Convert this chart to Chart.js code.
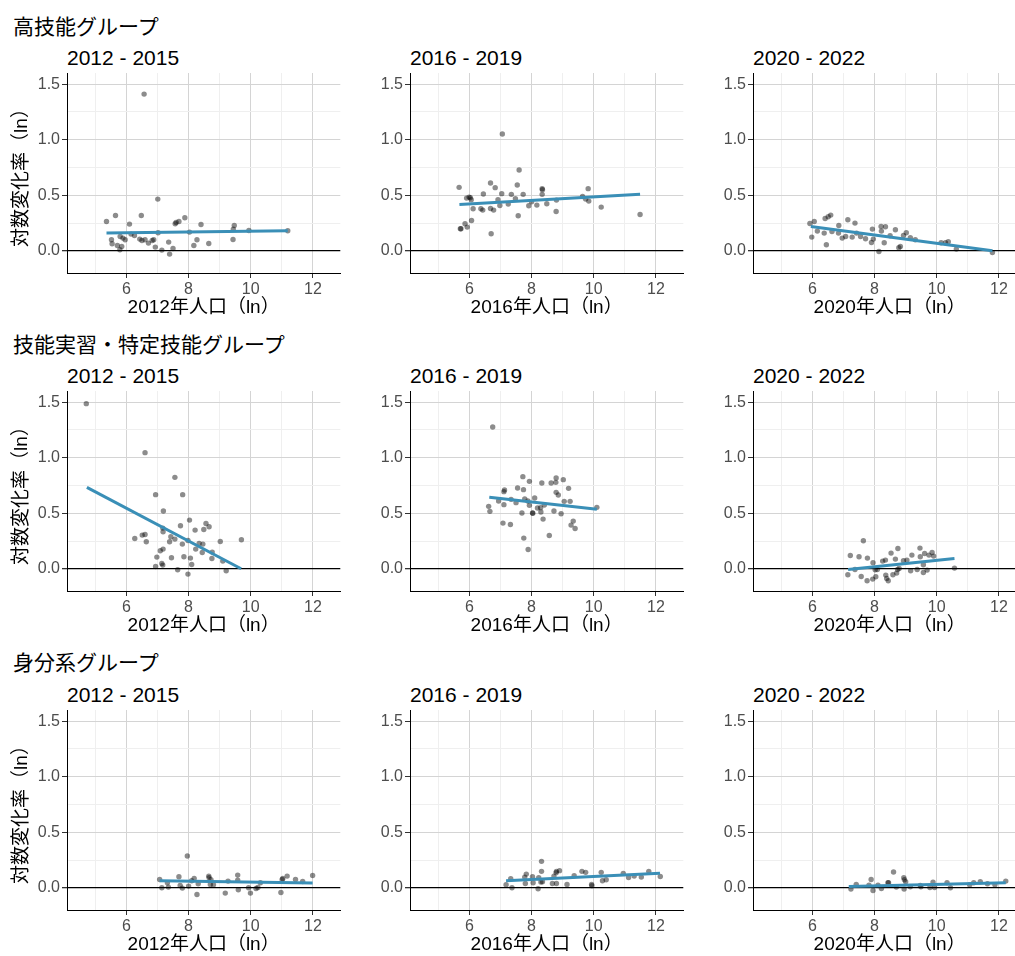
<!DOCTYPE html>
<html lang="ja">
<head>
  <meta charset="UTF-8">
  <title>人口規模と外国人人口の対数変化率</title>
  <script src="https://cdn.jsdelivr.net/npm/chart.js"></script>
  <style>
    body {
      margin: 0;
      width: 1015px;
      height: 956px;
      overflow: hidden;
      position: relative;
      background: #fff;
      font-family: 'Liberation Sans', 'Noto Sans CJK JP', sans-serif;
    }
    .group {
      position: absolute;
      left: 13px;
      font-size: 21px;
      line-height: 21px;
      color: #000;
      white-space: nowrap;
    }
    .period {
      position: absolute;
      font-size: 21px;
      line-height: 21px;
      color: #000;
      white-space: nowrap;
    }
    canvas { position: absolute; }
  </style>
</head>
<body>
  <script>
    // グループ・期間・軸ラベル
    const groups = ["高技能グループ", "技能実習・特定技能グループ", "身分系グループ"];
    const periods = ["2012 - 2015", "2016 - 2019", "2020 - 2022"];
    const xTitles = ["2012年人口（ln）", "2016年人口（ln）", "2020年人口（ln）"];
    const yTitle = "対数変化率（ln）";

    // 高技能グループ
    const hs12x = [6.57,5.36,5.65,6.48,7.01,6.10,5.52,5.54,5.71,5.79,5.85,5.80,5.89,5.96,6.15,6.26,6.43,6.50,6.60,6.71,6.83,6.88,6.93,7.02,7.14,7.36,7.39,7.50,7.57,7.60,7.69,7.88,8.03,8.17,8.27,8.40,8.65,9.43,9.44,9.47,9.94,11.19];
    const hs12y = [1.41,0.264,0.318,0.318,0.465,0.240,0.099,0.063,0.048,0.009,0.039,0.129,0.114,0.099,0.150,0.138,0.105,0.093,0.099,0.069,0.093,0.099,0.033,0.162,0.006,0.078,-0.030,0.021,0.243,0.255,0.264,0.297,0.168,0.048,0.099,0.237,0.066,0.102,0.195,0.228,0.183,0.180];
    const hs16x = [7.06,7.60,5.67,6.68,6.83,7.54,8.34,8.35,9.82,5.91,5.99,6.03,6.06,6.45,7.04,7.35,7.48,7.73,8.34,6.92,6.98,7.25,7.91,8.00,8.17,8.49,8.80,9.64,9.74,9.84,10.24,6.12,6.37,6.43,6.68,6.78,7.57,8.79,11.49,6.07,5.86,5.93,5.71,5.73,6.70];
    const hs16y = [1.051,0.727,0.571,0.610,0.568,0.592,0.559,0.550,0.559,0.474,0.483,0.477,0.459,0.511,0.514,0.508,0.468,0.508,0.508,0.459,0.408,0.420,0.405,0.441,0.411,0.423,0.456,0.489,0.465,0.447,0.393,0.378,0.378,0.366,0.381,0.366,0.315,0.354,0.327,0.273,0.243,0.213,0.198,0.198,0.153];
    const hs20x = [5.92,6.06,5.98,6.16,6.38,6.41,6.51,6.59,6.45,6.63,6.85,6.84,6.96,7.07,7.14,7.28,7.37,7.42,7.55,7.71,7.90,7.93,7.96,8.14,8.21,8.22,8.35,8.31,8.50,8.67,8.78,8.83,8.93,9.02,9.15,9.31,10.14,10.28,10.37,10.63,11.79];
    const hs20y = [0.246,0.264,0.123,0.177,0.159,0.291,0.306,0.321,0.054,0.174,0.228,0.159,0.114,0.129,0.279,0.123,0.249,0.159,0.129,0.108,0.075,0.195,0.105,-0.006,0.219,0.177,0.216,0.072,0.135,0.189,0.027,0.039,0.138,0.162,0.117,0.099,0.072,0.072,0.081,0.015,-0.015];

    // 技能実習・特定技能グループ
    const tr12x = [4.71,6.60,7.56,6.94,7.81,7.19,8.03,7.74,8.56,8.66,8.49,8.21,7.17,7.18,7.43,7.56,6.27,6.51,6.60,6.64,7.39,7.98,7.80,8.34,8.46,9.02,9.70,7.09,7.18,8.23,8.44,8.76,6.98,7.45,7.85,8.06,8.75,9.10,7.14,7.17,6.94,8.10,7.65,7.98,9.21];
    const tr12y = [1.486,1.045,0.823,0.667,0.667,0.520,0.438,0.387,0.408,0.378,0.354,0.348,0.366,0.333,0.288,0.267,0.273,0.303,0.309,0.243,0.243,0.255,0.222,0.228,0.222,0.246,0.261,0.162,0.177,0.177,0.147,0.150,0.105,0.099,0.108,0.096,0.093,0.069,0.048,0.033,0.021,0.039,-0.009,-0.048,-0.018];
    const tr16x = [6.75,7.72,7.93,8.33,8.63,8.79,8.78,9.02,9.19,7.55,7.74,7.13,7.11,8.79,8.86,6.62,6.66,6.94,7.11,7.34,7.50,7.78,7.88,7.93,8.10,8.19,8.29,8.41,8.30,8.03,8.04,7.69,8.72,8.95,9.05,9.24,10.10,7.08,7.32,8.37,9.34,9.27,9.40,8.57,7.75,7.89];
    const tr16y = [1.276,0.829,0.787,0.772,0.772,0.817,0.778,0.802,0.724,0.727,0.712,0.709,0.694,0.688,0.664,0.562,0.517,0.610,0.577,0.625,0.595,0.628,0.610,0.571,0.637,0.547,0.550,0.574,0.511,0.502,0.500,0.502,0.520,0.495,0.607,0.607,0.553,0.411,0.399,0.447,0.429,0.393,0.363,0.300,0.276,0.174];
    const tr20x = [7.64,7.22,7.50,7.77,8.53,8.75,9.46,9.20,9.61,9.75,9.85,9.90,9.47,8.67,8.93,9.04,7.95,8.26,8.35,9.57,7.37,7.14,7.57,7.76,7.94,8.04,8.02,8.09,8.36,8.39,8.44,8.59,8.71,8.74,8.79,9.16,9.37,9.57,9.69,10.57];
    const tr20y = [0.252,0.120,0.108,0.096,0.141,0.183,0.186,0.123,0.138,0.123,0.147,0.114,0.108,0.087,0.072,0.078,0.054,0.069,0.078,0.036,-0.006,-0.054,-0.069,-0.108,-0.093,-0.072,-0.009,-0.006,-0.057,-0.087,-0.108,-0.054,-0.039,-0.006,0.003,-0.018,-0.006,-0.033,-0.012,0.006];

    // 身分系グループ
    const st12x = [7.96,7.07,7.14,7.32,7.35,7.69,7.73,7.80,8.00,8.10,8.18,8.31,8.27,8.65,8.66,8.72,8.70,8.80,9.18,9.27,9.58,9.58,9.60,9.93,9.99,10.17,10.23,10.31,10.97,11.01,11.03,11.17,11.44,11.67,11.99];
    const st12y = [0.286,0.075,0.0,0.045,0.006,0.099,0.021,-0.003,0.015,0.063,0.084,0.036,-0.060,0.105,0.090,0.072,0.030,0.027,-0.048,0.060,0.114,0.069,-0.018,0.0,-0.048,-0.006,0.003,0.045,-0.042,0.075,0.084,0.105,0.075,0.057,0.111];
    const st16x = [8.32,8.32,7.83,7.78,8.03,8.23,8.80,8.90,8.79,9.62,9.74,9.37,10.24,10.95,11.77,12.14,11.30,11.53,11.12,10.28,10.40,8.72,7.33,7.18,7.37,7.80,8.05,8.30,8.35,8.67,8.80,9.14,8.21,9.93,9.94];
    const st16y = [0.238,0.148,0.123,0.096,0.099,0.090,0.148,0.154,0.136,0.148,0.139,0.108,0.139,0.130,0.148,0.102,0.105,0.096,0.093,0.063,0.072,0.105,0.081,0.027,0.0,0.039,0.045,0.051,0.054,0.039,0.039,0.030,-0.009,0.030,0.018];
    const st20x = [8.61,7.89,8.94,8.96,9.00,7.24,7.41,7.82,7.95,8.11,8.22,8.43,8.45,8.70,8.95,9.15,9.47,9.78,9.88,9.93,10.33,10.44,11.06,11.19,11.40,11.63,11.87,12.22,9.49];
    const st20y = [0.142,0.075,0.090,0.072,0.054,-0.012,0.030,0.024,-0.024,0.024,-0.006,0.045,0.045,0.006,-0.012,0.009,0.021,0.003,0.051,0.003,0.045,0.0,0.027,0.045,0.054,0.036,0.027,0.060,0.009];

    // 回帰直線の両端 (x, y)
    const fitX = [[5.36, 11.19], [5.68, 11.49], [5.95, 11.79],
                  [4.73, 9.69],  [6.64, 10.10], [7.15, 10.57],
                  [7.07, 11.99], [7.18, 12.13], [7.17, 12.22]];
    const fitY = [[0.159, 0.180], [0.417, 0.508], [0.219, 0.0],
                  [0.733, 0.0],   [0.643, 0.535], [-0.006, 0.093],
                  [0.063, 0.042], [0.063, 0.130], [0.012, 0.045]];

    const pointsX = [hs12x, hs16x, hs20x, tr12x, tr16x, tr20x, st12x, st16x, st20x];
    const pointsY = [hs12y, hs16y, hs20y, tr12y, tr16y, tr20y, st12y, st16y, st20y];

    // レイアウト
    const X_MIN = 4.09, X_MAX = 12.88;
    const Y_MIN = -0.2, Y_MAX = 1.6;
    const PLOT_LEFT = [67, 410, 753];
    const PLOT_TOP = [73, 391, 710];
    const PLOT_W = 274, PLOT_H = 200;
    const ROW_STEP = 318.3;
    const PAD_TOP = 5, X_AXIS_H = 46;
    const FONT = "'Liberation Sans', 'Noto Sans CJK JP', sans-serif";

    Chart.defaults.font.family = FONT;

    const isMajorX = v => Math.abs(v % 2) < 1e-6;
    const isMajorY = v => Math.abs(v * 2 - Math.round(v * 2)) < 1e-6;

    function addText(cls, text, left, top) {
      const d = document.createElement("div");
      d.className = cls;
      d.textContent = text;
      d.style.left = left + "px";
      d.style.top = top + "px";
      document.body.appendChild(d);
    }

    for (let r = 0; r < 3; r++) {
      addText("group", groups[r], 13, 15.5 + r * ROW_STEP);

      for (let c = 0; c < 3; c++) {
        const i = r * 3 + c;
        addText("period", periods[c], PLOT_LEFT[c], 47 + r * ROW_STEP);

        const yw = c === 0 ? 67 : 50;
        const cv = document.createElement("canvas");
        const w = yw + PLOT_W + 2;
        const h = PAD_TOP + PLOT_H + X_AXIS_H;
        cv.width = w;
        cv.height = h;
        cv.style.width = w + "px";
        cv.style.height = h + "px";
        cv.style.left = (PLOT_LEFT[c] - yw) + "px";
        cv.style.top = (PLOT_TOP[r] - PAD_TOP) + "px";
        document.body.appendChild(cv);

        const pts = pointsX[i].map((x, k) => ({ x: x, y: pointsY[i][k] }));
        const fit = fitX[i].map((x, k) => ({ x: x, y: fitY[i][k] }));

        new Chart(cv.getContext("2d"), {
          type: "scatter",
          data: {
            datasets: [
              {
                data: fit,
                showLine: true,
                borderColor: "#3a8fb7",
                borderWidth: 3,
                pointRadius: 0,
                order: 0,
              },
              {
                data: pts,
                backgroundColor: "rgba(0,0,0,0.45)",
                borderWidth: 0,
                pointRadius: 2.7,
                pointHoverRadius: 2.7,
                order: 1,
              },
            ],
          },
          options: {
            responsive: false,
            animation: false,
            events: [],
            layout: { padding: { top: PAD_TOP, right: 2, left: 0, bottom: 0 } },
            plugins: { legend: { display: false }, tooltip: { enabled: false } },
            scales: {
              x: {
                type: "linear",
                min: X_MIN,
                max: X_MAX,
                afterFit: s => { s.height = X_AXIS_H; },
                border: { display: true, color: "#000", width: 1 },
                grid: {
                  color: ctx => isMajorX(ctx.tick.value) ? "#d4d4d4" : "#efefef",
                  lineWidth: 1,
                  tickLength: 5,
                  tickColor: ctx => isMajorX(ctx.tick.value) ? "#333" : "rgba(0,0,0,0)",
                },
                ticks: {
                  stepSize: 1,
                  includeBounds: false,
                  autoSkip: false,
                  maxRotation: 0,
                  padding: 2,
                  color: "#4d4d4d",
                  font: { size: 16 },
                  callback: v => isMajorX(v) ? String(v) : "",
                },
                title: {
                  display: true,
                  text: xTitles[c],
                  color: "#000",
                  font: { size: 19 },
                  padding: { top: 0, bottom: 0 },
                },
              },
              y: {
                min: Y_MIN,
                max: Y_MAX,
                // 目盛ラベル分の余白を取らず、描画領域の高さを固定する
                afterFit: s => {
                  s.width = yw;
                  s.paddingTop = 0;
                  s.paddingBottom = 0;
                },
                border: { display: true, color: "#000", width: 1 },
                grid: {
                  color: ctx => {
                    const v = ctx.tick.value;
                    if (Math.abs(v) < 1e-6) return "#000";
                    return isMajorY(v) ? "#d4d4d4" : "#efefef";
                  },
                  lineWidth: ctx => Math.abs(ctx.tick.value) < 1e-6 ? 1.3 : 1,
                  tickLength: 5,
                  tickColor: ctx => isMajorY(ctx.tick.value) ? "#333" : "rgba(0,0,0,0)",
                },
                ticks: {
                  stepSize: 0.25,
                  includeBounds: false,
                  autoSkip: false,
                  padding: 2,
                  color: "#4d4d4d",
                  font: { size: 16 },
                  callback: v => isMajorY(v) ? v.toFixed(1) : "",
                },
                title: {
                  display: c === 0,
                  text: yTitle,
                  color: "#000",
                  font: { size: 19 },
                  padding: { top: 10, bottom: 0 },
                },
              },
            },
          },
        });
      }
    }
  </script>
</body>
</html>
